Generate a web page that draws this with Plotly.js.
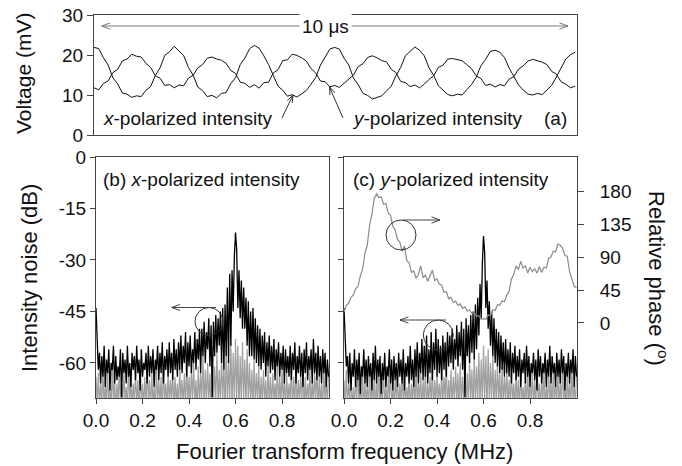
<!DOCTYPE html>
<html>
<head>
<meta charset="utf-8">
<script src="https://cdn.plot.ly/plotly-3.0.1.min.js"></script>
<style>html,body{margin:0;padding:0;background:#fff;}#chart{width:682px;height:466px;}</style>
</head>
<body>
<div id="chart"></div>
<script>
// ---------- DATA ----------
// (a) time traces, mV, sampled every 0.1012 µs
const xPolVoltage = [21.9,21.6,19.3,17.5,14.3,12.8,10.5,10.2,9.4,9.8,9.6,11.2,12.1,14.9,16.8,19.9,20.8,
22.2,21.0,19.9,16.9,15.0,12.0,11.1,9.6,9.9,9.3,10.4,10.6,12.9,14.3,17.6,19.3,21.6,
22.4,21.7,19.8,17.6,14.9,12.2,11.2,9.7,10.1,9.5,10.3,11.1,12.7,14.4,17.5,19.4,21.5,
21.9,21.5,19.2,17.5,14.2,12.6,10.4,9.9,9.0,9.4,9.8,11.0,12.2,14.8,16.9,19.8,21.0,
22.0,21.2,19.8,16.8,14.9,12.3,11.2,10.1,9.8,10.2,10.0,11.3,12.6,14.4,17.3,18.9,20.9,
21.2,20.7,19.4,16.7,14.6,12.5,11.2,10.2,10.0,10.4,10.1,11.3,12.4,14.5,16.8,19.0,20.1,20.7];
const yPolVoltage = [11.8,11.3,12.9,13.5,15.6,16.4,18.5,19.0,20.2,19.7,19.5,17.9,16.9,14.8,14.2,12.4,12.6,
11.8,12.5,12.3,14.2,14.9,16.8,17.6,19.2,19.5,19.0,18.7,17.9,16.1,15.4,13.2,12.9,11.9,
12.6,11.7,13.1,13.2,15.5,16.3,18.6,18.8,20.2,19.9,19.3,18.5,16.6,15.5,13.5,13.3,12.0,
12.4,11.9,12.9,14.1,15.0,17.1,17.8,19.4,19.8,19.3,18.6,18.3,16.4,15.6,13.4,13.1,12.1,
12.5,11.8,12.7,13.9,14.8,16.9,17.5,19.0,19.1,18.8,18.6,17.6,16.6,14.8,14.1,12.4,12.7,
12.0,12.6,12.3,14.0,14.6,16.5,17.3,18.5,18.9,18.6,18.2,17.6,15.9,15.2,13.3,12.7,11.8,12.2];

// (b) x-polarized intensity noise (dB), every 0.005 MHz from 0 to 1.0
const xNoise = [-44,-56,-62,-57,-66,-58,-64,-55,-67,-59,-63,-56,-68,-60,-62,-55,-66,-58,-65,-61,
-64,-56,-70,-57,-63,-59,-66,-55,-64,-60,-67,-57,-62,-58,-65,-55,-63,-59,-68,-56,
-64,-60,-62,-57,-66,-55,-64,-58,-63,-56,-67,-59,-62,-55,-65,-57,-63,-54,-66,-58,
-62,-56,-64,-54,-63,-57,-65,-53,-62,-56,-64,-54,-62,-52,-63,-55,-60,-51,-64,-54,
-61,-52,-63,-56,-60,-51,-62,-53,-59,-50,-63,-50,-58,-48,-60,-51,-56,-47,-61,-49,
-70,-48,-58,-46,-57,-47,-55,-45,-60,-44,-62,-43,-58,-38,-60,-34,-55,-33,-45,-29,
-22,-27,-44,-33,-47,-36,-50,-38,-50,-41,-55,-42,-58,-45,-58,-44,-59,-47,-60,-49,
-61,-50,-62,-52,-60,-51,-64,-54,-61,-52,-63,-55,-62,-53,-65,-56,-61,-54,-64,-57,
-62,-55,-66,-56,-63,-58,-64,-55,-65,-57,-62,-54,-66,-58,-63,-55,-64,-57,-67,-56,
-63,-54,-65,-58,-62,-56,-66,-53,-63,-57,-65,-55,-64,-58,-66,-56,-63,-57,-67,-59,-64];
const xFloor = [-64,-72,-63,-73,-66,-71,-62,-74,-65,-72,-63,-71,-67,-73,-61,-72,-64,-74,-66,-71,
-62,-73,-65,-72,-63,-71,-67,-74,-60,-72,-64,-73,-66,-71,-63,-72,-65,-74,-62,-71,
-66,-73,-64,-72,-61,-71,-65,-74,-63,-72,-67,-73,-62,-71,-65,-72,-64,-74,-60,-71,
-66,-73,-63,-72,-65,-71,-62,-74,-64,-72,-66,-73,-61,-71,-65,-72,-63,-74,-59,-72,
-64,-73,-62,-71,-60,-72,-65,-74,-61,-72,-63,-71,-58,-73,-62,-72,-60,-71,-63,-74,
-59,-72,-61,-71,-57,-73,-62,-72,-58,-71,-60,-74,-56,-72,-59,-71,-54,-73,-57,-72,
-53,-71,-55,-74,-58,-72,-54,-71,-59,-73,-56,-72,-60,-71,-62,-74,-59,-72,-63,-71,
-61,-73,-64,-72,-62,-71,-65,-74,-61,-72,-64,-73,-63,-71,-66,-72,-60,-74,-64,-72,
-62,-71,-65,-73,-63,-72,-66,-71,-61,-74,-64,-72,-62,-73,-65,-71,-63,-72,-60,-74,
-64,-72,-66,-71,-62,-73,-65,-72,-63,-71,-61,-74,-64,-72,-66,-73,-62,-71,-65,-72,-63];

// (c) y-polarized intensity noise (dB), every 0.005 MHz from 0 to 1.0
const yNoise = [-44,-55,-61,-58,-66,-57,-68,-60,-64,-56,-67,-59,-65,-57,-69,-61,-64,-56,-66,-59,
-67,-58,-64,-60,-68,-57,-65,-55,-66,-59,-64,-58,-69,-60,-65,-57,-67,-61,-64,-56,
-66,-59,-68,-58,-65,-60,-67,-57,-64,-59,-66,-56,-68,-60,-64,-58,-66,-55,-65,-59,
-67,-56,-64,-54,-66,-57,-63,-53,-65,-55,-64,-52,-66,-56,-63,-51,-65,-54,-62,-50,
-64,-53,-63,-55,-65,-52,-62,-54,-64,-51,-61,-52,-60,-50,-62,-53,-59,-49,-61,-51,
-58,-48,-62,-50,-70,-47,-58,-49,-60,-46,-57,-45,-59,-43,-56,-41,-52,-37,-47,-31,
-23,-28,-44,-36,-50,-42,-55,-45,-58,-47,-60,-50,-61,-51,-63,-52,-62,-54,-64,-53,
-63,-56,-64,-54,-66,-57,-63,-55,-65,-58,-64,-56,-67,-59,-63,-57,-66,-55,-64,-58,
-67,-60,-63,-57,-65,-59,-68,-56,-64,-58,-66,-60,-63,-57,-67,-59,-64,-55,-66,-58,
-63,-60,-67,-57,-64,-59,-66,-56,-63,-58,-68,-60,-64,-57,-66,-59,-63,-56,-67,-58,-64];
const yFloor = [-65,-73,-62,-72,-66,-71,-63,-74,-67,-72,-64,-71,-61,-73,-66,-72,-63,-74,-65,-71,
-67,-72,-62,-73,-66,-71,-64,-74,-65,-72,-61,-73,-67,-71,-63,-72,-66,-74,-64,-71,
-62,-73,-67,-72,-65,-71,-63,-74,-66,-72,-62,-73,-65,-71,-67,-72,-63,-74,-66,-71,
-64,-73,-61,-72,-66,-71,-63,-74,-65,-72,-62,-73,-66,-71,-64,-72,-61,-74,-65,-72,
-63,-71,-66,-73,-62,-72,-64,-71,-60,-74,-65,-72,-62,-73,-64,-71,-61,-72,-63,-74,
-60,-72,-64,-71,-61,-73,-63,-72,-59,-71,-62,-74,-58,-72,-61,-71,-57,-73,-59,-72,
-55,-71,-58,-74,-56,-72,-60,-71,-58,-73,-62,-72,-60,-71,-63,-74,-61,-72,-64,-71,
-62,-73,-65,-72,-63,-71,-66,-74,-62,-72,-65,-73,-63,-71,-67,-72,-64,-74,-62,-72,
-66,-71,-63,-73,-65,-72,-61,-71,-66,-74,-64,-72,-62,-73,-67,-71,-63,-72,-65,-74,
-62,-72,-66,-71,-63,-73,-65,-72,-61,-71,-66,-74,-63,-72,-65,-73,-62,-71,-66,-72,-64];

// (c) relative phase (degrees), every 0.01 MHz from 0 to 1.0
const relPhase = [15,24,27,35,38,47,50,64,73,95,106,133,148,170,176,171,172,162,163,150,
147,132,127,114,110,98,105,85,82,69,71,61,66,78,62,65,57,64,72,58,
60,53,52,42,43,33,35,28,30,24,26,20,22,16,18,13,14,9,10,5,
6,5,11,10,18,17,25,24,30,29,38,43,60,66,78,73,84,75,78,68,
76,70,74,68,77,69,76,75,88,90,98,97,108,106,102,92,91,70,60,50,48];

const voltTicks = [0, 10, 20, 30];
const dbTicks = [-60, -45, -30, -15, 0];
const dbTickText = ['-60', '-45', '-30', '-15', '0'];
const freqTicks = [0, 0.2, 0.4, 0.6, 0.8];
const freqTickText = ['0.0', '0.2', '0.4', '0.6', '0.8'];
const phaseTicks = [0, 45, 90, 135, 180];

// ---------- LAYOUT ----------
const W = 682, H = 466;
const F = '"Liberation Sans", Arial, Helvetica, sans-serif';
const px = x => x / W;
const py = y => 1 - y / H;

const base = {
  showline: true, linecolor: '#444', linewidth: 1, mirror: true,
  showgrid: false, zeroline: false,
  ticks: 'outside', ticklen: 5, tickcolor: '#444', tickwidth: 1,
  tickfont: {family: F, size: 19, color: '#111'}
};

const traces = [
  {y: xPolVoltage, x0: 0, dx: 0.1012, xaxis: 'x', yaxis: 'y', mode: 'lines', line: {color: '#111', width: 1}},
  {y: yPolVoltage, x0: 0, dx: 0.1012, xaxis: 'x', yaxis: 'y', mode: 'lines', line: {color: '#111', width: 1}},
  {y: xFloor, x0: 0, dx: 0.005, xaxis: 'x2', yaxis: 'y2', mode: 'lines', line: {color: '#a0a0a0', width: 1.2}},
  {y: xNoise, x0: 0, dx: 0.005, xaxis: 'x2', yaxis: 'y2', mode: 'lines', line: {color: '#000', width: 1.3}},
  {y: relPhase, x0: 0, dx: 0.01, xaxis: 'x3', yaxis: 'y4', mode: 'lines', line: {color: '#8a8a8a', width: 1.2}},
  {y: yFloor, x0: 0, dx: 0.005, xaxis: 'x3', yaxis: 'y3', mode: 'lines', line: {color: '#a0a0a0', width: 1.2}},
  {y: yNoise, x0: 0, dx: 0.005, xaxis: 'x3', yaxis: 'y3', mode: 'lines', line: {color: '#000', width: 1.3}}
];

function arrowShape(x0, y0, x1, y1, color, head) {
  head = head || 9;
  const ang = Math.atan2(y1 - y0, x1 - x0);
  const a = 20 * Math.PI / 180;
  const hx1 = x1 - head * Math.cos(ang - a), hy1 = y1 - head * Math.sin(ang - a);
  const hx2 = x1 - head * Math.cos(ang + a), hy2 = y1 - head * Math.sin(ang + a);
  const P = (x, y) => px(x).toFixed(5) + ',' + py(y).toFixed(5);
  return {type: 'path', xref: 'paper', yref: 'paper',
    path: 'M' + P(x0, y0) + ' L' + P(x1, y1) + ' M' + P(hx1, hy1) + ' L' + P(x1, y1) + ' L' + P(hx2, hy2),
    line: {color: color || '#333', width: 1}};
}
function circleShape(cx, cy, r) {
  return {type: 'circle', xref: 'paper', yref: 'paper',
    x0: px(cx - r), x1: px(cx + r), y0: py(cy + r), y1: py(cy - r),
    line: {color: '#333', width: 1}};
}
function label(text, x, y, xanchor, size, angle) {
  return {text: text, xref: 'paper', yref: 'paper', x: px(x), y: py(y),
    xanchor: xanchor || 'left', yanchor: 'middle', showarrow: false,
    textangle: angle || 0, font: {family: F, size: size || 19, color: '#111'}};
}

const shapes = [
  arrowShape(330, 26, 101.7, 26, '#777'),
  arrowShape(330, 26, 568, 26, '#777'),
  arrowShape(282, 118, 293, 95, '#333', 8),
  arrowShape(343, 118, 329.5, 87, '#333', 8),
  circleShape(209, 321.5, 14),
  arrowShape(216, 307.5, 171.7, 307.5, '#444'),
  circleShape(401, 235, 15),
  arrowShape(403, 220, 440, 220, '#444'),
  circleShape(438.3, 335, 15),
  arrowShape(446, 320, 400, 320, '#444')
];

const annotations = [
  Object.assign(label('10 μs', 325, 26, 'center', 19), {bgcolor: '#fff', borderpad: 2}),
  label('<i>x</i>-polarized intensity', 101, 118),
  label('<i>y</i>-polarized intensity', 350, 118),
  label('(a)', 569, 118, 'right'),
  label('(b) <i>x</i>-polarized intensity', 101, 179),
  label('(c) <i>y</i>-polarized intensity', 351, 179),
  label('Voltage (mV)', 23, 74, 'center', 21, -90),
  label('Intensity noise (dB)', 29, 278, 'center', 22, -90),
  label('Relative phase (<sup>o</sup>)', 658, 278, 'center', 22, 90),
  label('Fourier transform frequency (MHz)', 344, 451, 'center', 22)
];

const layout = {
  width: W, height: H, margin: {l: 0, r: 0, t: 0, b: 0},
  paper_bgcolor: '#fff', plot_bgcolor: '#fff', showlegend: false,
  xaxis: Object.assign({}, base, {domain: [px(94), px(577)], anchor: 'y', range: [0, 10.36], showticklabels: false, ticks: ''}),
  yaxis: Object.assign({}, base, {domain: [py(135), py(15)], anchor: 'x', range: [0, 30], tickvals: voltTicks, ticklen: 6}),
  xaxis2: Object.assign({}, base, {domain: [px(96), px(329)], anchor: 'y2', range: [0, 1.002], tickvals: freqTicks, ticktext: freqTickText}),
  yaxis2: Object.assign({}, base, {domain: [py(398), py(157)], anchor: 'x2', range: [-70.2, 0], tickvals: dbTicks, ticktext: dbTickText}),
  xaxis3: Object.assign({}, base, {domain: [px(344), px(577)], anchor: 'y3', range: [0, 1.002], tickvals: freqTicks, ticktext: freqTickText}),
  yaxis3: Object.assign({}, base, {domain: [py(398), py(157)], anchor: 'x3', range: [-70.2, 0], tickvals: dbTicks, showticklabels: false}),
  yaxis4: Object.assign({}, base, {overlaying: 'y3', anchor: 'x3', side: 'right', mirror: false, range: [-102.3, 226.4], tickvals: phaseTicks, ticklen: 6, ticklabelstandoff: 12}),
  shapes: shapes,
  annotations: annotations
};

Plotly.newPlot('chart', traces, layout, {staticPlot: true, displayModeBar: false});
</script>
</body>
</html>
